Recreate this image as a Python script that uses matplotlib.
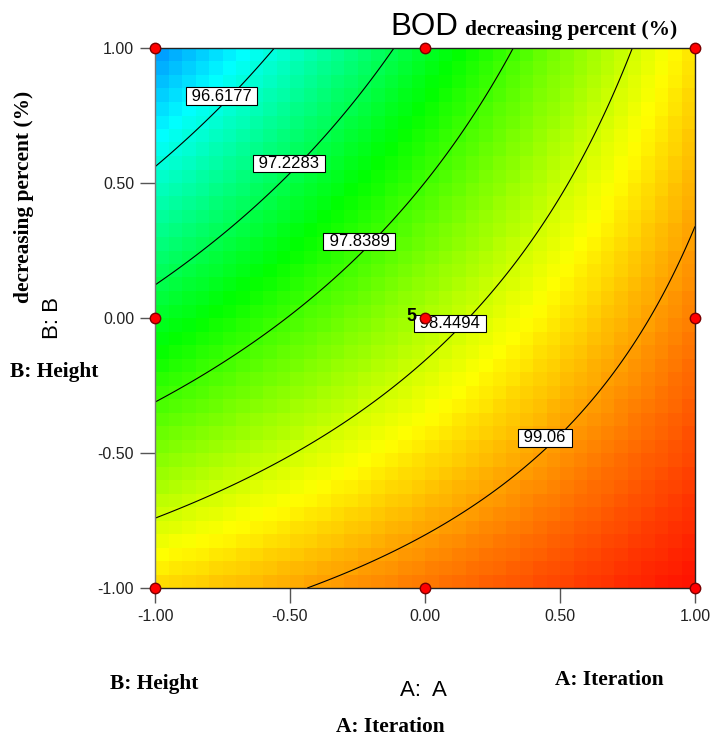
import numpy as np
import matplotlib
matplotlib.use("Agg")
import matplotlib.pyplot as plt
from matplotlib.colors import LinearSegmentedColormap

# response surface: BOD decreasing percent = quadratic model in coded A, B
# terms: intercept, A, B, AB, A^2, B^2 (estimated from the contour lines in the picture)
terms = ["1", "A", "B", "AB", "A2", "B2"]
coefs = [98.3029, 0.9066, -0.9305, 0.4742, 0.0036, 0.0145]

levels = [96.6177, 97.2283, 97.8389, 98.4494, 99.06]
label_pos = [(-0.754, 0.822), (-0.504, 0.572), (-0.243, 0.283), (0.093, -0.020), (0.444, -0.444)]

# design points (coded)
design_a = [-1, -1, -1, 0, 0, 0, 1, 1, 1]
design_b = [-1, 0, 1, -1, 0, 1, -1, 0, 1]
center_runs = 5

ticks = [-1.0, -0.5, 0.0, 0.5, 1.0]


def model(a, b):
    b0, b1, b2, b12, b11, b22 = coefs
    return b0 + b1 * a + b2 * b + b12 * a * b + b11 * a * a + b22 * b * b


cmap = LinearSegmentedColormap.from_list("de", ["#0000ff", "#00ffff", "#00ff00", "#ffff00", "#ff0000"])

fig = plt.figure(figsize=(7.12, 7.37), dpi=100)
ax = fig.add_axes([155 / 712, 1 - 588 / 737, 540 / 712, 540 / 737])

edges = np.linspace(-1, 1, 41)
cent = (edges[:-1] + edges[1:]) / 2
CA, CB = np.meshgrid(cent, cent)
ax.pcolormesh(edges, edges, model(CA, CB), cmap=cmap, vmin=95.38, vmax=99.75, shading="flat")

fine = np.linspace(-1, 1, 301)
FA, FB = np.meshgrid(fine, fine)
ax.contour(FA, FB, model(FA, FB), levels=levels, colors="black", linewidths=0.8)

for lv, (x, y) in zip(levels, label_pos):
    ax.text(x, y, " %g " % lv, ha="center", va="center", fontsize=12, family="Liberation Sans",
            bbox=dict(facecolor="white", edgecolor="black", pad=0.8, linewidth=0.8), zorder=5)

ax.text(-0.03, 0.007, str(center_runs), ha="right", va="center", fontsize=13, fontweight="bold",
        family="Liberation Sans", zorder=6)
ax.plot(design_a, design_b, "o", color="#ff0000", markeredgecolor="#7a0000", markersize=7.5,
        clip_on=False, zorder=7)

ax.set_xlim(-1, 1)
ax.set_ylim(-1, 1)
ax.set_xticks(ticks)
ax.set_yticks(ticks)
ax.set_xticklabels(["%.2f" % t for t in ticks])
ax.set_yticklabels(["%.2f" % t for t in ticks])
ax.tick_params(direction="out", length=11, width=1, color="#555555", labelcolor="#222222",
               labelsize=11.5, pad=4)
for lab in ax.get_xticklabels() + ax.get_yticklabels():
    lab.set_family("Liberation Sans")
for s in ax.spines.values():
    s.set_color("#222222")
    s.set_linewidth(1)
ax.spines["left"].set_color("#777777")

serif = dict(family="Liberation Serif", fontweight="bold", fontsize=15.4)
sans = dict(family="Liberation Sans", fontsize=16)


def ftext(x, y, s, **kw):
    fig.text(x / 712, 1 - y / 737, s, **kw)


ftext(390, 35, "BOD", ha="left", va="baseline", family="Liberation Sans", fontsize=22.5)
ftext(465, 35, "decreasing percent (%)", ha="left", va="baseline", **serif)
ftext(24, 197, "decreasing percent (%)", ha="center", va="center", rotation=90, **serif)
ftext(52, 318, "B: B", ha="center", va="center", rotation=90, **sans)
ftext(10, 377, "B: Height", ha="left", va="baseline", **serif)
ftext(110, 689, "B: Height", ha="left", va="baseline", **serif)
ftext(423, 691, "A:  A", ha="center", va="center", **sans)
ftext(609, 680, "A: Iteration", ha="center", va="center", **serif)
ftext(390, 727, "A: Iteration", ha="center", va="center", **serif)

fig.savefig("out.png", dpi=100)
